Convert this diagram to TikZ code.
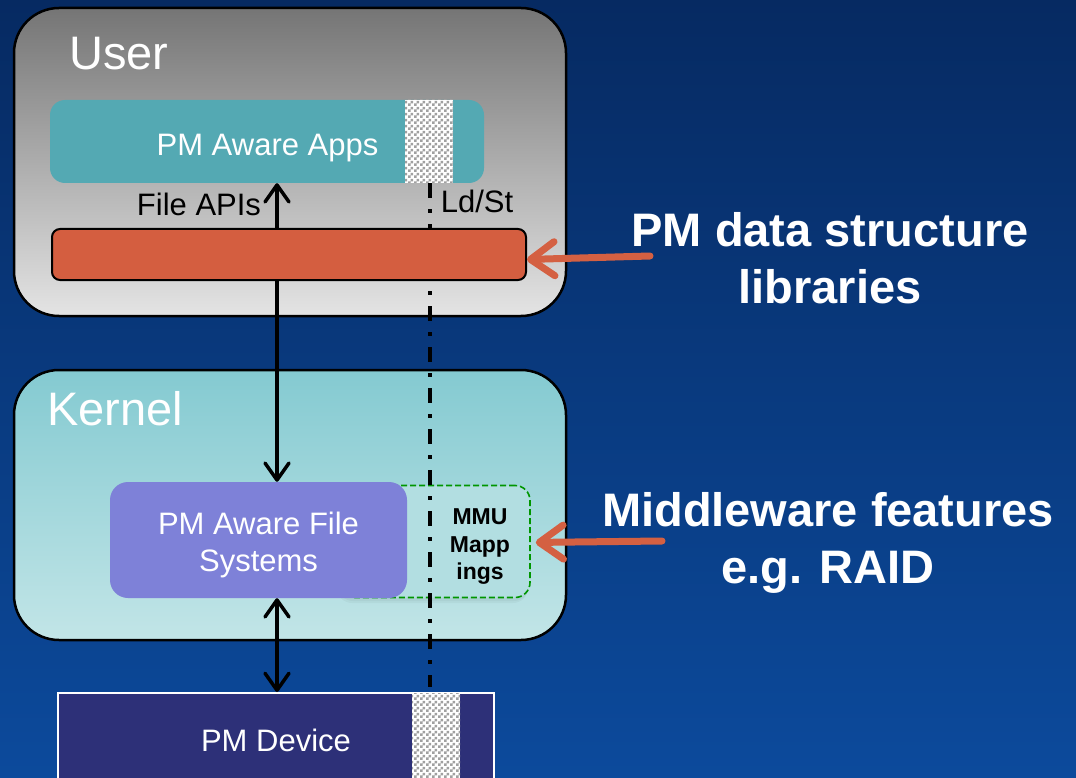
\documentclass[tikz,border=0pt]{standalone}
\usepackage{fontspec}
\setmainfont{Liberation Sans}
\usetikzlibrary{arrows.meta,patterns}
\pgfdeclarepatternformonly{pmchecker}{\pgfpointorigin}{\pgfqpoint{6pt}{6pt}}{\pgfqpoint{6pt}{6pt}}{%
  \pgfpathrectangle{\pgfpointorigin}{\pgfqpoint{3pt}{3pt}}%
  \pgfpathrectangle{\pgfqpoint{3pt}{3pt}}{\pgfqpoint{3pt}{3pt}}%
  \pgfusepath{fill}}
\definecolor{bgtop}{RGB}{6,42,98}
\definecolor{bgbot}{RGB}{12,74,156}
\definecolor{usertop}{RGB}{117,117,117}
\definecolor{userbot}{RGB}{228,228,228}
\definecolor{kertop}{RGB}{132,202,209}
\definecolor{kerbot}{RGB}{194,229,231}
\definecolor{appscol}{RGB}{84,169,179}
\definecolor{libcol}{RGB}{212,94,64}
\definecolor{fscol}{RGB}{126,129,216}
\definecolor{devcol}{RGB}{45,48,120}
\definecolor{mmugreen}{RGB}{0,150,0}
\definecolor{arrorange}{RGB}{212,96,66}
\definecolor{chkgray}{RGB}{160,160,160}
\begin{document}
\begin{tikzpicture}[x=1pt,y=-1pt,
  layer/.style={draw=black,line width=2.5pt,rounded corners=45pt,inner sep=0pt},
  plainbox/.style={inner sep=0pt,draw=none},
  laytxt/.style={text=white,inner sep=0pt,anchor=west,font=\fontsize{47}{56}\selectfont},
  boxtxt/.style={text=white,inner sep=0pt,align=center,font=\fontsize{31}{37}\selectfont},
  blktxt/.style={text=black,inner sep=0pt,font=\fontsize{31}{37}\selectfont},
  sidetxt/.style={text=white,inner sep=0pt,align=center,font=\bfseries\fontsize{47}{57}\selectfont},
  blk/.style={draw=black,line width=3.5pt,-{Straight Barb[length=17pt,width=24pt,round]}},
  blkboth/.style={draw=black,line width=3.5pt,{Straight Barb[length=17pt,width=24pt,round]}-{Straight Barb[length=17pt,width=24pt,round]}},
  ldst/.style={draw=black,line width=4pt,dash pattern=on 15pt off 11pt on 4pt off 11pt},
  oarr/.style={draw=arrorange,line width=7pt,line cap=round,-{Straight Barb[length=24pt,width=34pt,round]}}
]
\useasboundingbox (0,0) rectangle (1076,778);
\clip (0,0) rectangle (1076,778);
\fill[top color=bgtop,bottom color=bgbot] (0,0) rectangle (1076,778);

% layers
\node[layer,top color=usertop,bottom color=userbot,minimum width=552pt,minimum height=308pt] (user) at (290,162) {};
\node[layer,top color=kertop,bottom color=kerbot,minimum width=552pt,minimum height=270pt] (kernel) at (290,505) {};

% MMU mappings box (with faint shadow)
\fill[black,opacity=0.035,rounded corners=15pt] (337,489) rectangle (528,603);
\fill[black,opacity=0.035,rounded corners=15pt] (338,488) rectangle (529,601);
\node[draw=mmugreen,dash pattern=on 6pt off 3pt,line width=1.6pt,rounded corners=15pt,fill=kerbot!75!kertop,
  minimum width=190pt,minimum height=112pt,inner sep=0pt] (mmu) at (435,541.5) {};

\coordinate (ax) at (277,0);
\coordinate (ld) at (430,0);

% boxes
\node[plainbox,fill=appscol,rounded corners=15pt,minimum width=434pt,minimum height=83pt] (apps) at (267,141.5) {};
\node[plainbox,fill=devcol,draw=white,line width=2pt,minimum width=436pt,minimum height=120pt,anchor=north west] (dev) at (57,692) {};
\draw[ldst] (apps.south -| ld) -- (dev.north -| ld) [shorten >=5pt];
\node[draw=black,line width=2pt,fill=libcol,rounded corners=8pt,minimum width=474pt,minimum height=51pt,inner sep=0pt] (lib) at (289,254.5) {};
\node[plainbox,fill=fscol,rounded corners=18pt,minimum width=297pt,minimum height=116pt] (fs) at (258.5,540) {};

% checkered regions
\fill[white] (405,100) rectangle (453,183);
\fill[pattern=pmchecker,pattern color=chkgray] (405,100) rectangle (453,183);
\fill[white] (412,693) rectangle (460,790);
\fill[pattern=pmchecker,pattern color=chkgray] (412,693) rectangle (460,790);

% connectors
\draw[blk] (lib.north -| ax) -- (apps.south -| ax);
\draw[blk] (lib.south -| ax) -- (fs.north -| ax);
\draw[blkboth] (fs.south -| ax) -- (dev.north -| ax);

\coordinate (o1) at (650,256);
\coordinate (o2) at (662,541);
\draw[oarr] (o1) -- ([yshift=-5pt]lib.east);
\draw[oarr,shorten >=5pt] (o2) -- ([yshift=-1pt]mmu.east);

% texts
\node[laytxt] (usertxt) at (69,54) {User};
\node[laytxt] (kerneltxt) at (47,409) {Kernel};
\node[boxtxt,anchor=base] (appstxt) at (267.5,156) {PM Aware Apps};
\node[blktxt,anchor=base] (filetxt) at (199,216) {File APIs};
\node[blktxt,anchor=base] (ldsttxt) at (477,213) {Ld/St};
\node[boxtxt] (fstxt) at (258.5,544.5) {PM Aware File\\Systems};
\node[text=black,inner sep=0pt,align=center,font=\bfseries\fontsize{23}{27.5}\selectfont] (mmutxt) at (480,547) {MMU\\Mapp\\ings};
\node[boxtxt,anchor=base] (devtxt) at (276,751) {PM Device};
\node[sidetxt] (libtxt) at (830,258.5) {PM data structure\\libraries};
\node[sidetxt] (mwtxt) at (828,542.5) {Middleware features\\e.g. RAID};
\end{tikzpicture}
\end{document}
